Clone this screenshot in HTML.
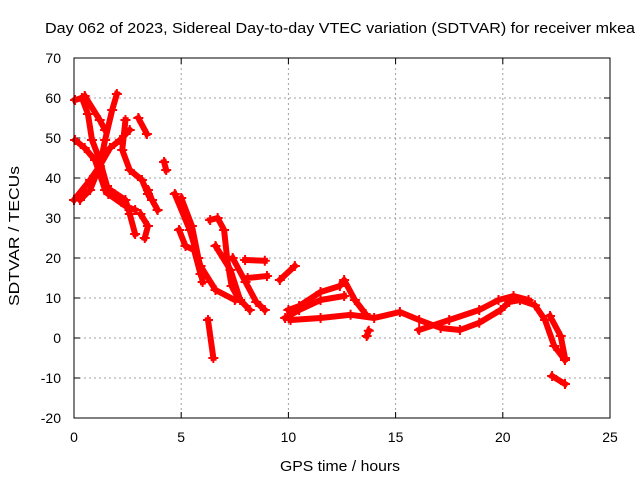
<!DOCTYPE html>
<html><head><meta charset="utf-8"><style>
body{margin:0;background:#fff}
svg{display:block;font-family:"Liberation Sans",sans-serif}
</style></head><body>
<svg id="chart" width="640" height="480">
<rect width="640" height="480" fill="#fff"/>
<text x="340" y="33" text-anchor="middle" font-size="15" textLength="590" lengthAdjust="spacingAndGlyphs">Day 062 of 2023, Sidereal Day-to-day VTEC variation (SDTVAR) for receiver mkea</text>
<text x="340" y="471" text-anchor="middle" font-size="15" textLength="120" lengthAdjust="spacingAndGlyphs">GPS time / hours</text>
<text transform="translate(19,236) rotate(-90)" text-anchor="middle" font-size="15" textLength="140" lengthAdjust="spacingAndGlyphs">SDTVAR / TECUs</text>
<g id="grid"></g>
<g id="ticks"></g>
<g id="marks"></g>
<rect x="74" y="58" width="536" height="360" fill="none" stroke="#000" stroke-width="1"/>
</svg>
<script>
const xTicks=[0,5,10,15,20,25];
const yTicks=[-20,-10,0,10,20,30,40,50,60,70];
const track1=[[0.05,59.5],[0.37,60],[0.65,56],[0.84,49.5],[1.2,44.5],[1.54,38],[1.68,37]];
const track2=[[0.05,49.5],[0.5,47.5],[0.98,44.5],[1.2,41],[1.45,37]];
const track3=[[0,34.5],[0.75,39.5],[1.2,43],[1.68,47.5],[2.15,49.5],[2.6,52]];
const track4=[[0.5,60.5],[1.2,54.5],[1.45,52]];
const track5=[[2.0,61],[1.78,57],[1.45,49.5],[1.2,43],[0.75,37],[0.28,34.5]];
const track6=[[2.4,54.5],[2.25,47],[2.6,42],[3.17,39.5],[3.45,36]];
const track7=[[3.0,55],[3.4,51]];
const track8=[[1.7,37],[2.4,34.5],[2.6,31],[2.85,26]];
const track9=[[1.6,36],[2.4,33],[2.85,32]];
const track10=[[3.1,31],[3.45,28],[3.3,25]];
const track11=[[3.45,37],[3.64,34.5],[3.9,32]];
const track12=[[4.2,44],[4.3,42]];
const track13=[[4.7,36],[5.4,27],[5.9,18],[6.6,12],[7.5,9.5]];
const track14=[[5.0,35],[5.5,28],[5.8,20],[6.0,14]];
const track15=[[4.9,27],[5.2,23],[5.6,22],[5.9,16]];
const track16=[[6.35,29.5],[6.7,30],[7.0,27],[7.15,19.5],[7.35,13],[7.65,10]];
const track17=[[6.6,23],[7.3,17],[7.75,9.5],[8.2,7]];
const track18=[[7.4,20],[8.0,14],[8.5,9],[8.9,7]];
const track19=[[7.98,19.5],[8.9,19.3]];
const track20=[[8.1,15],[9.0,15.5]];
const track21=[[9.6,14.5],[10.3,18]];
const track22=[[10,7],[10.5,8],[11.5,11.5],[12.4,13],[12.6,14.5],[13.1,9.5],[13.6,6]];
const track23=[[9.85,5],[10.5,7],[11.5,9.5],[12.6,10.5]];
const track24=[[10.1,4.5],[11.5,5],[12.9,5.8],[14,5],[15.2,6.5],[16.1,4.5],[17.1,2.5],[18,2],[18.9,3.8],[19.9,7],[20.3,9],[20.8,9.5],[21.5,8.2],[21.97,4.5],[22.4,-2],[22.9,-5.5]];
const track25=[[16.1,2],[17.5,4.5],[18.9,7],[19.8,9.5],[20.5,10.5],[21.2,9.5]];
const track26=[[22.2,5.5],[22.7,0.5],[22.9,-5]];
const track27=[[22.3,-9.5],[22.9,-11.5]];
const track28=[[6.25,4.5],[6.5,-5]];
const track29=[[13.65,0.5],[13.75,1.8]];
const tracks=[track1,track2,track3,track4,track5,track6,track7,track8,track9,track10,track11,track12,track13,track14,track15,track16,track17,track18,track19,track20,track21,track22,track23,track24,track25,track26,track27,track28,track29];

const X=v=>74+v*(536/25);
const Y=v=>338-v*4;
const NS="http://www.w3.org/2000/svg";
function mk(tag,attrs,parent){const e=document.createElementNS(NS,tag);for(const k in attrs)e.setAttribute(k,attrs[k]);parent.appendChild(e);return e;}
const grid=document.getElementById('grid'),ticks=document.getElementById('ticks'),marks=document.getElementById('marks');
xTicks.forEach(t=>{
  const x=X(t);
  if(t>0&&t<25){const g=mk('line',{x1:x,x2:x,y1:58,y2:418,stroke:'#a0a0a0','stroke-dasharray':'2,3'},grid);
  
  }
  mk('line',{x1:x,x2:x,y1:418,y2:412,stroke:'#000'},ticks);
  mk('line',{x1:x,x2:x,y1:58,y2:64,stroke:'#000'},ticks);
  const l=mk('text',{x:x,y:442,'text-anchor':'middle','font-size':14},ticks);
  l.textContent=t;
  
  
});
yTicks.forEach(t=>{
  const y=Y(t);
  if(t>-20&&t<70){const g=mk('line',{x1:74,x2:610,y1:y,y2:y,stroke:'#a0a0a0','stroke-dasharray':'2,3'},grid);
  
  }
  mk('line',{x1:74,x2:80,y1:y,y2:y,stroke:'#000'},ticks);
  mk('line',{x1:610,x2:604,y1:y,y2:y,stroke:'#000'},ticks);
  const l=mk('text',{x:61,y:y+5,'text-anchor':'end','font-size':14},ticks);
  l.textContent=t;
  
  
});
tracks.forEach((tr,i)=>{
  const p=mk('polyline',{points:tr.map(d=>X(d[0])+','+Y(d[1])).join(' '),fill:'none',stroke:'#ff0000','stroke-width':6,'stroke-linejoin':'round','stroke-linecap':'square'},marks);
  
  
  tr.forEach(d=>{
    const x=X(d[0]),y=Y(d[1]);
    const m=mk('path',{d:`M${x-5},${y}H${x+5}M${x},${y-5}V${y+5}`,stroke:'#ff0000','stroke-width':2},marks);
    
    
  });
});
</script>
</body></html>
